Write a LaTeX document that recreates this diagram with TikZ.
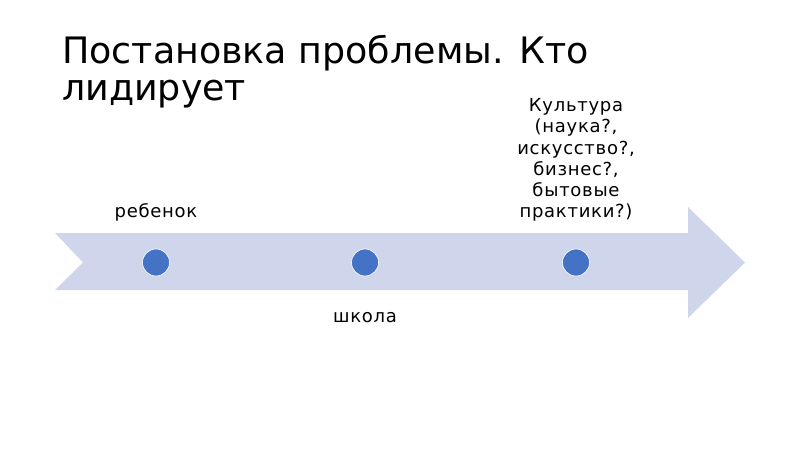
\documentclass[tikz,border=0pt]{standalone}
\usepackage{fontspec}
\setmainfont{DejaVu Sans}
\newfontfamily\labelfont[LetterSpace=4]{DejaVu Sans}
\usepackage{tikz}
\usepackage{xcolor}

\definecolor{arrowfill}{HTML}{CFD5EA}
\definecolor{dotblue}{HTML}{4472C4}

\begin{document}
\begin{tikzpicture}[
            x = 1pt, y = -1pt, % pixel grid of the slide
            dot/.style = {shape=circle, fill=dotblue, draw=white, line width=0.6pt,
                          minimum size=27pt, inner sep=0pt}, % point on the time line
            label/.style = {inner sep=0pt, font=\labelfont\fontsize{18}{21.3}\selectfont,
                            align=center, anchor=base}, % text near a point
            title/.style = {inner sep=0pt, font=\fontsize{36.4}{37}\selectfont,
                            align=left, anchor=base west}
        ]
\useasboundingbox (0,0) rectangle (800,449);

% the arrow
\fill[arrowfill] (55,233) -- (688,233) -- (688,207) -- (745,262.5)
    -- (688,318) -- (688,290) -- (55,290) -- (83,262.5) -- cycle;

\node[title] (T) at (62,101) {Постановка проблемы. Кто\\лидирует};

\node[dot] (P1) at (156,262.5) {};
\node[dot] (P2) at (365,262.5) {};
\node[dot] (P3) at (576,262.5) {};

\node[label] (L1) at (156,218) {ребенок};
\node[label] (L2) at (365,322) {школа};
\node[label] (L3) at (576,218) {Культура\\(наука?,\\искусство?,\\бизнес?,\\бытовые\\практики?)};
\end{tikzpicture}
\end{document}
